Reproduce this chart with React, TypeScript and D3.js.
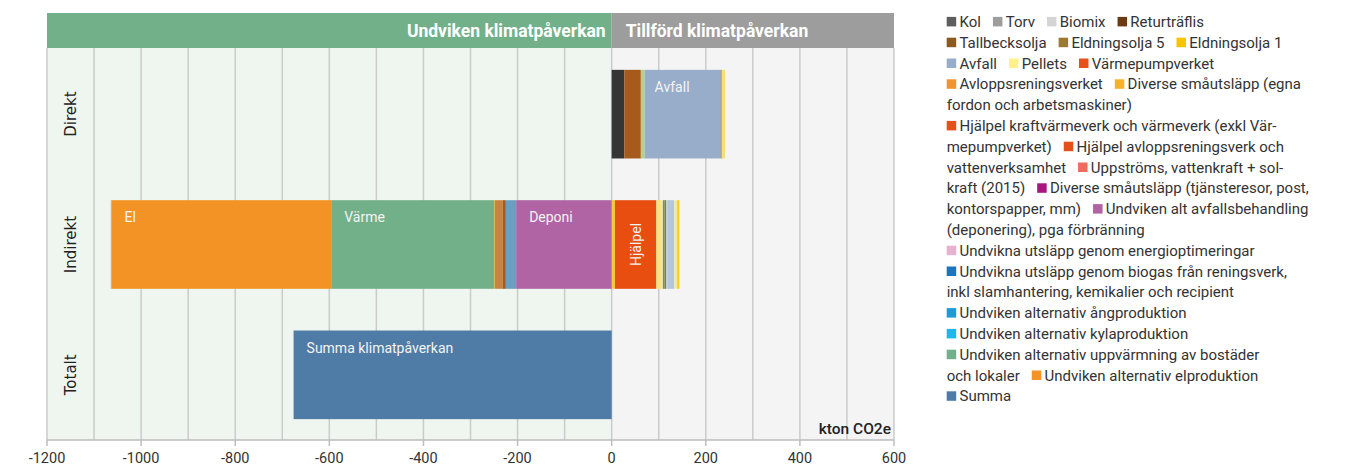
import React from "react";
import * as d3 from "d3";

// ---------- DATA ----------
const rows = ["Direkt", "Indirekt", "Totalt"];
const xTicks = [-1200, -1000, -800, -600, -400, -200, 0, 200, 400, 600];
const gridValues = d3.range(-1200, 601, 100);

// Direkt (positive, stacked from 0 to the right)
const direktKeys = ["Kol", "Returträflis", "Biomix", "Avfall", "Torv", "Pellets"];
const direktValues = [27, 35, 8, 161, 3, 7];

// Indirekt positive (from 0 to the right)
const indirektPosKeys = [
  "Eldningsolja 1", "Hjälpel", "Pellets", "Biomix", "Eldningsolja 5",
  "Tallbecksolja", "Torv", "Avfall", "Pellets b", "Eldningsolja 1 b",
];
const indirektPosValues = [7, 88, 11, 3, 3.5, 3.5, 2, 15, 6, 5];

// Indirekt negative (from 0 to the left)
const indirektNegKeys = [
  "Deponi", "Biogas", "Tallbecksolja b", "Avloppsreningsverket b", "Eldningsolja 1 c",
  "Värme", "El", "Torv b",
];
const indirektNegValues = [203, 22, 6, 17, 2, 346, 467, 1.5];

// Totalt
const totaltKeys = ["Summa"];
const totaltValues = [-676];

const segmentLabels: Record<string, string> = {
  Avfall: "Avfall",
  El: "El",
  Värme: "Värme",
  Deponi: "Deponi",
  Hjälpel: "Hjälpel",
  Summa: "Summa klimatpåverkan",
};
const labelledOnce = new Set(["Avfall@Direkt", "El@Indirekt", "Värme@Indirekt", "Deponi@Indirekt", "Hjälpel@Indirekt", "Summa@Totalt"]);

// Legend lines (swatch key or null for continuation text)
const legendLines: [string | null, string][][] = [
  [["Kol", "Kol"], ["Torv", "Torv"], ["Biomix", "Biomix"], ["Returträflis", "Returträflis"]],
  [["Tallbecksolja", "Tallbecksolja"], ["Eldningsolja 5", "Eldningsolja 5"], ["Eldningsolja 1", "Eldningsolja 1"]],
  [["Avfall", "Avfall"], ["Pellets", "Pellets"], ["Värmepumpverket", "Värmepumpverket"]],
  [["Avloppsreningsverket", "Avloppsreningsverket"], ["DivEgna", "Diverse småutsläpp (egna"]],
  [[null, "fordon och arbetsmaskiner)"]],
  [["HjälpelKVV", "Hjälpel kraftvärmeverk och värmeverk (exkl Vär-"]],
  [[null, "mepumpverket)"], ["HjälpelARV", "Hjälpel avloppsreningsverk och"]],
  [[null, "vattenverksamhet"], ["Uppströms", "Uppströms, vattenkraft + sol-"]],
  [[null, "kraft (2015)"], ["DivTjänst", "Diverse småutsläpp (tjänsteresor, post,"]],
  [[null, "kontorspapper, mm)"], ["UndvAvfall", "Undviken alt avfallsbehandling"]],
  [[null, "(deponering), pga förbränning"]],
  [["Energiopt", "Undvikna utsläpp genom energioptimeringar"]],
  [["BiogasL", "Undvikna utsläpp genom biogas från reningsverk,"]],
  [[null, "inkl slamhantering, kemikalier och recipient"]],
  [["Ång", "Undviken alternativ ångproduktion"]],
  [["Kyla", "Undviken alternativ kylaproduktion"]],
  [["Uppv", "Undviken alternativ uppvärmning av bostäder"]],
  [[null, "och lokaler"], ["ElL", "Undviken alternativ elproduktion"]],
  [["SummaL", "Summa"]],
];

// ---------- STYLES ----------
const barColor: Record<string, string> = {
  Kol: "#353535",
  Returträflis: "#A65A1B",
  Biomix: "#B8CF8C",
  Avfall: "#97ADC9",
  Torv: "#8C8C8C",
  Pellets: "#F6DF78",
  "Eldningsolja 1": "#EFCB3C",
  Hjälpel: "#E84E0F",
  "Eldningsolja 5": "#8D8A46",
  Tallbecksolja: "#6F8A3C",
  "Pellets b": "#F3E8A6",
  "Eldningsolja 1 b": "#F2D41C",
  Deponi: "#B064A4",
  Biogas: "#6B9FC1",
  "Tallbecksolja b": "#9E5E2A",
  "Avloppsreningsverket b": "#C98340",
  "Eldningsolja 1 c": "#D9B948",
  Värme: "#72B08A",
  El: "#F39325",
  "Torv b": "#A8A8A8",
  Summa: "#4F7CA6",
};
const posBarOverrides: Record<string, string> = { Biomix: "#E6DEB2", Torv: "#C9C9C9", Avfall: "#B3C7E3", Pellets: "#FFE27E" };

const legendColor: Record<string, string> = {
  Kol: "#5E5E5E",
  Torv: "#9D9D9D",
  Biomix: "#D4D4D4",
  Returträflis: "#6B3A12",
  Tallbecksolja: "#8A5A1E",
  "Eldningsolja 5": "#9C7A34",
  "Eldningsolja 1": "#F8C300",
  Avfall: "#97ADC9",
  Pellets: "#FFF28A",
  Värmepumpverket: "#E8501A",
  Avloppsreningsverket: "#F29330",
  DivEgna: "#F7B12A",
  HjälpelKVV: "#E8501A",
  HjälpelARV: "#E4501A",
  Uppströms: "#EE6B5E",
  DivTjänst: "#A8177E",
  UndvAvfall: "#B064A4",
  Energiopt: "#E7B1D0",
  BiogasL: "#1B75BB",
  Ång: "#1E9AD6",
  Kyla: "#1CB8EC",
  Uppv: "#72B08A",
  ElL: "#F39325",
  SummaL: "#4F7CA6",
};

const W = 1354;
const H = 468;
const FONT = "Roboto, 'Open Sans', sans-serif";

let _ctx: CanvasRenderingContext2D | null = null;
function textWidth(t: string, font: string) {
  if (!_ctx) _ctx = document.createElement("canvas").getContext("2d");
  if (!_ctx) return t.length * 7;
  _ctx.font = font;
  return _ctx.measureText(t).width;
}

type Seg = { key: string; row: string; x0: number; x1: number };

function stack(row: string, keys: string[], values: number[], sign: number): Seg[] {
  let acc = 0;
  return keys.map((k, i) => {
    const a = acc;
    acc += values[i] * sign;
    return { key: k, row, x0: Math.min(a, acc), x1: Math.max(a, acc) };
  });
}

export default function App() {
  const x = d3.scaleLinear().domain([-1200, 600]).range([47, 894]);
  const y = d3.scaleBand<string>().domain(rows).range([49, 440]).paddingInner(0.32).paddingOuter(0.16);

  const totalSegs: Seg[] = totaltKeys.map((k, i) => ({
    key: k, row: "Totalt", x0: Math.min(0, totaltValues[i]), x1: Math.max(0, totaltValues[i]),
  }));
  const segs: Seg[] = [
    ...stack("Direkt", direktKeys, direktValues, 1),
    ...stack("Indirekt", indirektPosKeys, indirektPosValues, 1),
    ...stack("Indirekt", indirektNegKeys, indirektNegValues, -1),
    ...totalSegs,
  ];

  const colorFor = (s: Seg) => {
    if (s.row === "Indirekt" && posBarOverrides[s.key] && s.x0 >= 0) return posBarOverrides[s.key];
    return barColor[s.key] || "#999";
  };

  const plotTop = 48;
  const plotBottom = 440;
  const legendFont = `15px ${FONT}`;

  return (
    <div style={{ position: "absolute", left: 0, top: 0 }}>
      <svg width={W} height={H} style={{ display: "block" }}>
        {/* backgrounds */}
        <rect x={x(-1200)} y={plotTop} width={x(0) - x(-1200)} height={plotBottom - plotTop} fill="#EFF6EF" />
        <rect x={x(0)} y={plotTop} width={x(600) - x(0)} height={plotBottom - plotTop} fill="#F4F4F4" />
        {/* header */}
        <rect x={x(-1200)} y={13} width={x(0) - x(-1200)} height={plotTop - 13} fill="#72B08A" />
        <rect x={x(0)} y={13} width={x(600) - x(0)} height={plotTop - 13} fill="#9D9D9D" />
        <text x={x(0) - 6} y={37} textAnchor="end" fill="#fff" fontFamily={FONT} fontWeight={700} fontSize={17.5}>
          Undviken klimatpåverkan
        </text>
        <text x={x(0) + 14} y={37} textAnchor="start" fill="#fff" fontFamily={FONT} fontWeight={700} fontSize={17.5}>
          Tillförd klimatpåverkan
        </text>
        {/* grid */}
        {gridValues.map((v) => (
          <line key={v} x1={x(v)} x2={x(v)} y1={plotTop} y2={plotBottom} stroke="#CBCBCB" strokeWidth={1.5} />
        ))}
        {/* axis */}
        <line x1={x(-1200)} x2={x(600)} y1={plotBottom} y2={plotBottom} stroke="#BDBDBD" strokeWidth={1.5} />
        {xTicks.map((v) => (
          <g key={v}>
            <line x1={x(v)} x2={x(v)} y1={plotBottom} y2={plotBottom + 6} stroke="#BDBDBD" strokeWidth={1.5} />
            <text x={x(v)} y={463} textAnchor="middle" fontFamily={FONT} fontSize={14.5} fill="#333">
              {v}
            </text>
          </g>
        ))}
        {/* row labels */}
        {rows.map((r) => {
          const cy = (y(r) || 0) + y.bandwidth() / 2;
          const cx = 71;
          return (
            <text key={r} transform={`translate(${cx},${cy}) rotate(-90)`} textAnchor="middle" dy="0.35em"
              fontFamily="'DejaVu Sans', sans-serif" fontSize={15} fill="#222">
              {r}
            </text>
          );
        })}
        {/* bars */}
        {segs.map((s, i) => (
          <rect key={i} x={x(s.x0)} y={y(s.row)} width={Math.max(0, x(s.x1) - x(s.x0))} height={y.bandwidth()} fill={colorFor(s)} />
        ))}
        {/* segment labels */}
        {segs.filter((s) => labelledOnce.has(`${s.key}@${s.row}`)).map((s, i) => {
          const top = y(s.row) || 0;
          if (s.key === "Hjälpel") {
            const cx = (x(s.x0) + x(s.x1)) / 2;
            const cy = top + y.bandwidth() / 2;
            return (
              <text key={i} transform={`translate(${cx},${cy}) rotate(-90)`} textAnchor="middle" dy="0.35em"
                fontFamily={FONT} fontSize={14} fill="#F3F3F3">
                {segmentLabels[s.key]}
              </text>
            );
          }
          return (
            <text key={i} x={x(s.x0) + (s.key === "Avfall" ? 10 : 13)} y={top + 22} fontFamily={FONT} fontSize={14} fill="#F3F3F3">
              {segmentLabels[s.key]}
            </text>
          );
        })}
        {/* unit */}
        <text x={891} y={434} textAnchor="end" fontFamily={FONT} fontWeight={500} fontSize={15.5} fill="#222">
          kton CO2e
        </text>
        {/* legend */}
        {legendLines.map((line, li) => {
          const cy = 21.7 + li * 20.8;
          let cx = 946.7;
          const parts: React.ReactNode[] = [];
          line.forEach(([key, label], pi) => {
            if (key) {
              parts.push(<rect key={`s${pi}`} x={cx} y={cy - 4.8} width={9.5} height={9.5} fill={legendColor[key]} />);
              cx += 12.8;
            }
            parts.push(
              <text key={`t${pi}`} x={cx} y={cy + 5.3} fontFamily={FONT} fontSize={15} fill="#333">
                {label}
              </text>
            );
            cx += textWidth(label, legendFont) + 12;
          });
          return <g key={li}>{parts}</g>;
        })}
      </svg>
    </div>
  );
}
